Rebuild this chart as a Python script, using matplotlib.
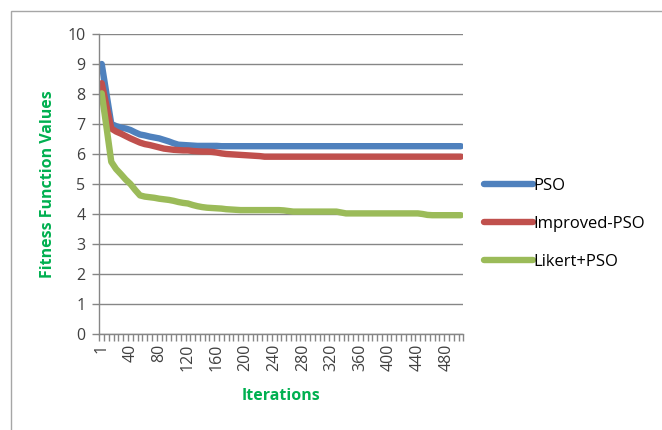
import matplotlib
matplotlib.use("Agg")
import matplotlib.pyplot as plt
from matplotlib.patches import Rectangle

# Fitness values recorded at each sampled iteration (76 samples, 1..500)
pso = [9.00, 8.00, 7.00, 6.93, 6.88, 6.85, 6.80, 6.72, 6.65, 6.62,
       6.58, 6.55, 6.52, 6.47, 6.42, 6.36, 6.31, 6.30, 6.29, 6.28,
       6.27, 6.27, 6.27, 6.27, 6.27, 6.26, 6.26, 6.26, 6.26, 6.26,
       6.26, 6.26, 6.26, 6.26, 6.26, 6.26, 6.26, 6.26, 6.26, 6.26,
       6.26, 6.26, 6.26, 6.26, 6.26, 6.26, 6.26, 6.26, 6.26, 6.26,
       6.26, 6.26, 6.26, 6.26, 6.26, 6.26, 6.26, 6.26, 6.26, 6.26,
       6.26, 6.26, 6.26, 6.26, 6.26, 6.26, 6.26, 6.26, 6.26, 6.26,
       6.26, 6.26, 6.26, 6.26, 6.26, 6.26]

improved_pso = [8.36, 7.60, 6.85, 6.75, 6.68, 6.60, 6.52, 6.45, 6.38, 6.33,
                6.30, 6.26, 6.22, 6.18, 6.16, 6.14, 6.13, 6.12, 6.12, 6.10,
                6.09, 6.08, 6.08, 6.07, 6.05, 6.02, 6.00, 5.99, 5.98, 5.97,
                5.96, 5.95, 5.94, 5.93, 5.91, 5.91, 5.91, 5.91, 5.91, 5.91,
                5.91, 5.91, 5.91, 5.91, 5.91, 5.91, 5.91, 5.91, 5.91, 5.91,
                5.91, 5.91, 5.91, 5.91, 5.91, 5.91, 5.91, 5.91, 5.91, 5.91,
                5.91, 5.91, 5.91, 5.91, 5.91, 5.91, 5.91, 5.91, 5.91, 5.91,
                5.91, 5.91, 5.91, 5.91, 5.91, 5.91]

likert_pso = [8.02, 6.90, 5.74, 5.50, 5.33, 5.15, 5.00, 4.80, 4.62, 4.58,
              4.56, 4.54, 4.51, 4.49, 4.47, 4.44, 4.40, 4.37, 4.35, 4.30,
              4.26, 4.23, 4.21, 4.20, 4.19, 4.18, 4.16, 4.15, 4.14, 4.13,
              4.13, 4.13, 4.13, 4.13, 4.13, 4.13, 4.13, 4.13, 4.12, 4.10,
              4.08, 4.08, 4.08, 4.08, 4.08, 4.08, 4.08, 4.08, 4.08, 4.08,
              4.05, 4.02, 4.02, 4.02, 4.02, 4.02, 4.02, 4.02, 4.02, 4.02,
              4.02, 4.02, 4.02, 4.02, 4.02, 4.02, 4.02, 4.00, 3.97, 3.96,
              3.96, 3.96, 3.96, 3.96, 3.96, 3.96]

x_labels = ["1", "40", "80", "120", "160", "200", "240", "280",
            "320", "360", "400", "440", "480"]
label_every = 6
y_ticks = [0, 1, 2, 3, 4, 5, 6, 7, 8, 9, 10]

series = [("PSO", pso, "#4F81BD"),
          ("Improved-PSO", improved_pso, "#C0504D"),
          ("Likert+PSO", likert_pso, "#9BBB59")]

plt.rcParams["font.family"] = ["Open Sans", "DejaVu Sans"]
grid_col = "#868686"
text_col = "#404040"
title_col = "#00B050"
fs = 11.5

fig = plt.figure(figsize=(6.62, 4.30), dpi=100)
fig.patch.set_facecolor("white")

# outer chart frame
fig.patches.append(Rectangle((11 / 662, -0.05), 1.2, 1 - 11 / 430 + 0.05,
                             transform=fig.transFigure, fill=False,
                             edgecolor="#A6A6A6", linewidth=1.0))

ax = fig.add_axes([99.3 / 662, 1 - 334 / 430, 364 / 662, 300 / 430])

n = len(pso)
xs = list(range(n))
for name, vals, col in series:
    ax.plot(xs, vals, color=col, linewidth=4.6, label=name,
            solid_joinstyle="round", solid_capstyle="round")

ax.set_xlim(-0.5, n - 0.5)
ax.set_ylim(0, 10)

# y axis
ax.set_yticks(y_ticks)
ax.set_yticklabels([str(v) for v in y_ticks])
ax.yaxis.grid(True, color=grid_col, linewidth=1.0)
ax.set_axisbelow(True)
ax.tick_params(axis="y", direction="out", length=5, width=1.0,
               color=grid_col, labelsize=fs, labelcolor=text_col, pad=5)

# x axis: tick marks on category boundaries, labels on category centres
ax.set_xticks([i - 0.5 for i in range(n + 1)])
ax.set_xticklabels([])
ax.tick_params(axis="x", which="major", direction="out", length=5,
               width=1.0, color=grid_col)
ax.set_xticks(list(range(0, n, label_every))[:len(x_labels)], minor=True)
ax.set_xticklabels(x_labels, minor=True, rotation=90, fontsize=fs,
                   color=text_col)
ax.tick_params(axis="x", which="minor", length=0, pad=7)

for side in ("top", "right"):
    ax.spines[side].set_visible(False)
for side in ("left", "bottom"):
    ax.spines[side].set_color(grid_col)
    ax.spines[side].set_linewidth(1.0)

ax.set_xlabel("Iterations", fontsize=fs, fontweight="bold",
              color=title_col, labelpad=12)
ax.set_ylabel("Fitness Function Values", fontsize=fs, fontweight="bold",
              color=title_col, labelpad=8)

leg = ax.legend(loc="center left", bbox_to_anchor=(476 / 662, 1 - 224 / 430),
                bbox_transform=fig.transFigure, frameon=False,
                fontsize=fs + 0.5, handlelength=2.9, handletextpad=0.05,
                labelspacing=1.32, borderpad=0)
for t in leg.get_texts():
    t.set_color("#000000")

fig.savefig("out.png", dpi=100, facecolor="white")
